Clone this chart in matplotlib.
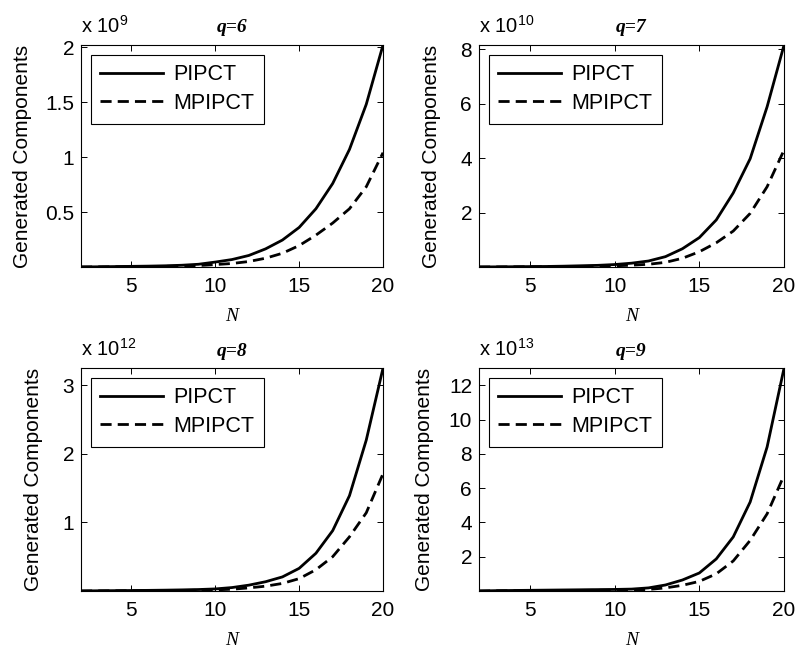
import matplotlib
matplotlib.use('Agg')
from matplotlib import pyplot as plt

plt.rcParams['font.family'] = ['Liberation Sans', 'DejaVu Sans']
plt.rcParams['mathtext.fontset'] = 'custom'
plt.rcParams['mathtext.rm'] = 'Liberation Sans'

N = list(range(2, 21))

# values, in units of 10^exp
q_labels = ['q=6', 'q=7', 'q=8', 'q=9']
exponents = [9, 10, 12, 13]

pipct_q6 = [0.0005, 0.002, 0.004, 0.006, 0.008, 0.011, 0.016, 0.025, 0.045,
            0.068, 0.105, 0.165, 0.245, 0.36, 0.53, 0.76, 1.07, 1.48, 2.02]
mpipct_q6 = [0.0003, 0.001, 0.002, 0.003, 0.004, 0.006, 0.008, 0.013, 0.022,
             0.032, 0.05, 0.08, 0.125, 0.195, 0.29, 0.40, 0.53, 0.73, 1.04]

pipct_q7 = [0.001, 0.005, 0.01, 0.015, 0.02, 0.03, 0.045, 0.06, 0.09,
            0.14, 0.22, 0.38, 0.67, 1.08, 1.73, 2.72, 3.98, 5.89, 8.16]
mpipct_q7 = [0.0005, 0.002, 0.005, 0.008, 0.01, 0.015, 0.02, 0.03, 0.045,
             0.065, 0.1, 0.17, 0.32, 0.56, 0.89, 1.32, 1.97, 2.95, 4.3]

pipct_q8 = [0.0002, 0.003, 0.005, 0.007, 0.009, 0.012, 0.016, 0.021, 0.03,
            0.05, 0.085, 0.135, 0.205, 0.33, 0.55, 0.88, 1.39, 2.2, 3.25]
mpipct_q8 = [0.0001, 0.0015, 0.0025, 0.0035, 0.0045, 0.006, 0.008, 0.011, 0.016,
             0.026, 0.045, 0.07, 0.11, 0.18, 0.31, 0.5, 0.79, 1.14, 1.71]

pipct_q9 = [0.001, 0.02, 0.03, 0.04, 0.05, 0.06, 0.07, 0.08, 0.09,
            0.11, 0.18, 0.35, 0.64, 1.05, 1.87, 3.15, 5.19, 8.4, 13.0]
mpipct_q9 = [0.0005, 0.01, 0.015, 0.02, 0.025, 0.03, 0.035, 0.04, 0.045,
             0.055, 0.09, 0.18, 0.33, 0.56, 1.0, 1.75, 2.95, 4.5, 6.75]

pipct = [pipct_q6, pipct_q7, pipct_q8, pipct_q9]
mpipct = [mpipct_q6, mpipct_q7, mpipct_q8, mpipct_q9]
yticks = [[0.5, 1, 1.5, 2], [2, 4, 6, 8], [1, 2, 3], [2, 4, 6, 8, 10, 12]]
yticklabels = [['0.5', '1', '1.5', '2'], ['2', '4', '6', '8'], ['1', '2', '3'],
               ['2', '4', '6', '8', '10', '12']]

fig = plt.figure(figsize=(7.96, 6.48), dpi=100)
positions = [[0.1018, 0.588, 0.3794, 0.3426],
             [0.6018, 0.588, 0.3832, 0.3426],
             [0.1018, 0.088, 0.3794, 0.344],
             [0.6018, 0.088, 0.3832, 0.344]]
ylabel_pads = [9, 14, 14, 10.5]

for i in range(4):
    ax = fig.add_axes(positions[i])
    ax.plot(N, pipct[i], color='black', linewidth=2.0, label='PIPCT')
    ax.plot(N, mpipct[i], color='black', linewidth=2.0, linestyle=(0, (4, 2.2)),
            label='MPIPCT')
    ax.set_xlim(2, 20)
    ax.set_ylim(min(pipct[i][0], mpipct[i][0]), max(pipct[i]))
    ax.set_xticks([5, 10, 15, 20])
    ax.set_yticks(yticks[i])
    ax.set_yticklabels(yticklabels[i])
    ax.tick_params(direction='in', length=4, width=0.7, labelsize=15,
                   top=True, right=True)
    ax.tick_params(axis='x', pad=7.5)
    ax.tick_params(axis='y', pad=5)
    for sp in ax.spines.values():
        sp.set_linewidth(0.8)
    ax.set_ylabel('Generated Components', fontsize=15, labelpad=ylabel_pads[i])
    ax.set_xlabel('N', fontsize=14, family='Liberation Serif', style='italic',
                  labelpad=8)
    ax.set_title(q_labels[i], fontsize=14, family='Liberation Serif',
                 style='italic', weight='bold', pad=9)
    ax.text(0.0, 1.035, r'x 10$^{%d}$' % exponents[i], transform=ax.transAxes,
            fontsize=14.5, ha='left', va='bottom')
    leg = ax.legend(loc='upper left', fontsize=15.5, handlelength=2.9,
                    borderaxespad=0.45, fancybox=False, framealpha=1,
                    edgecolor='black', borderpad=0.45, labelspacing=0.35,
                    handletextpad=0.5)
    leg.get_frame().set_linewidth(0.8)

fig.savefig('out.png', dpi=100)
